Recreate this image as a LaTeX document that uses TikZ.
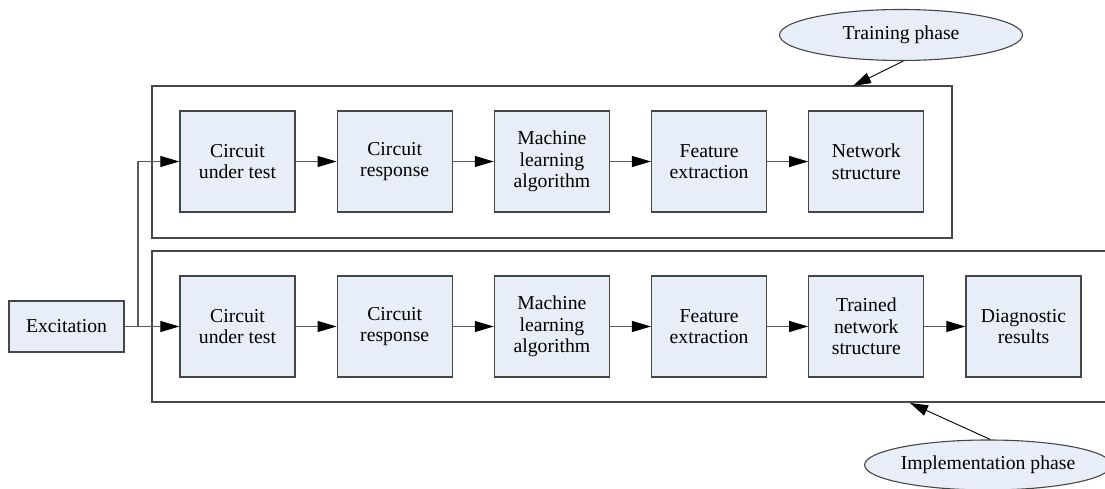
\documentclass[tikz,border=0pt]{standalone}
\usepackage{fontspec}
\setmainfont{Liberation Serif}
\usetikzlibrary{arrows.meta,shapes.geometric}
\definecolor{boxfill}{RGB}{232,238,247}
\definecolor{edgecol}{RGB}{70,70,70}
\tikzset{
  stepbox/.style={draw=edgecol, line width=1.3pt, fill=boxfill, minimum width=115pt, minimum height=101pt, inner sep=0pt, align=center, font=\fontsize{19.7}{21.7}\selectfont},
  excbox/.style={stepbox, minimum height=51pt},
  phase/.style={ellipse, draw=edgecol, line width=1.1pt, fill=boxfill, minimum width=243pt, minimum height=51pt, inner sep=0pt, font=\fontsize{19.7}{21.7}\selectfont},
  container/.style={draw=edgecol, line width=1.4pt},
  flow/.style={draw=black!65, line width=1.1pt, -{Triangle[length=19pt,width=11pt,black]}},
  link/.style={draw=black!65, line width=1.1pt},
  phasearrow/.style={draw=black, line width=0.9pt, -{Triangle[length=18pt,width=11pt,black]}}
}
\begin{document}
\begin{tikzpicture}[x=1pt,y=-1pt]
\useasboundingbox (0,0) rectangle (1105,489);
\begin{scope}
\clip (0,0) rectangle (1105,489);
% containers
\draw[container] (152,86) rectangle (952,238);
\draw[container] (1110,251) -- (152,251) -- (152,402) -- (1110,402);
% top row
\node[stepbox] (t1) at (237.5,161.5) {Circuit\\under test};
\node[stepbox] (t2) at (394.7,161.5) {Circuit\\response};
\node[stepbox] (t3) at (551.9,161.5) {Machine\\learning\\algorithm};
\node[stepbox] (t4) at (709.1,161.5) {Feature\\extraction};
\node[stepbox] (t5) at (866.3,161.5) {Network\\structure};
% bottom row
\node[stepbox] (b1) at (237.5,326.5) {Circuit\\under test};
\node[stepbox] (b2) at (394.7,326.5) {Circuit\\response};
\node[stepbox] (b3) at (551.9,326.5) {Machine\\learning\\algorithm};
\node[stepbox] (b4) at (709.1,326.5) {Feature\\extraction};
\node[stepbox] (b5) at (866.3,326.5) {Trained\\network\\structure};
\node[stepbox] (b6) at (1023.5,326.5) {Diagnostic\\results};
% excitation
\node[excbox] (exc) at (66.5,326.5) {Excitation};
\coordinate (jn) at (138,326.5);
\draw[link] (exc.east) -- (jn);
\draw[flow] (jn) -- (b1.west);
\draw[flow] (jn) |- (t1.west);
% flows
\draw[flow] (t1) -- (t2);
\draw[flow] (t2) -- (t3);
\draw[flow] (t3) -- (t4);
\draw[flow] (t4) -- (t5);
\draw[flow] (b1) -- (b2);
\draw[flow] (b2) -- (b3);
\draw[flow] (b3) -- (b4);
\draw[flow] (b4) -- (b5);
\draw[flow] (b5) -- (b6);
% phases
\node[phase] (train) at (901,35) {Training phase};
\node[phase, minimum width=244pt, minimum height=50pt] (impl) at (988,465) {Implementation phase};
\coordinate (ttip) at (853,86);
\coordinate (itip) at (910,403);
\draw[phasearrow] (train.-85) -- (ttip);
\draw[phasearrow] (impl.85) -- (itip);
\end{scope}
\end{tikzpicture}
\end{document}
